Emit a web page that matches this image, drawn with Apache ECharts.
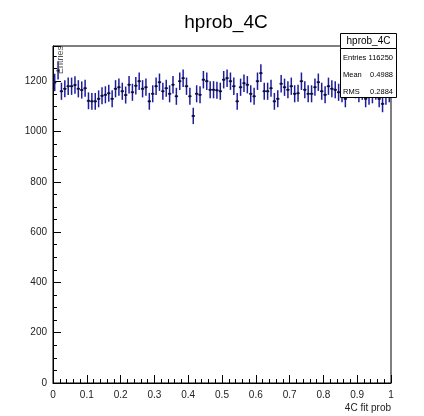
<!DOCTYPE html>
<html><head><meta charset="utf-8">
<script src="https://cdn.jsdelivr.net/npm/echarts@6/dist/echarts.min.js"></script>
<style>html,body{margin:0;padding:0;background:#fff}#c{width:424px;height:416px}</style>
</head><body><div id="c"></div>
<script>
var title = "hprob_4C";
var xTitle = "4C fit prob";
var yTitle = "Entries";
var binLow = 0, binHigh = 1, nBins = 100;
var counts = [
 1195,1242,1160,1170,1180, 1180,1185,1170,1165,1172,
 1122,1120,1120,1130,1142, 1146,1152,1130,1170,1176,
 1160,1145,1186,1156,1182, 1200,1170,1176,1120,1150,
 1180,1196,1160,1172,1150, 1186,1140,1200,1212,1180,
 1140,1062,1150,1146,1206, 1200,1166,1166,1164,1160,
 1206,1212,1200,1180,1120, 1176,1192,1186,1150,1140,
 1200,1232,1160,1160,1172, 1120,1130,1190,1176,1166,
 1180,1150,1152,1200,1166, 1150,1150,1176,1196,1160,
 1146,1180,1170,1166,1156, 1150,1130,1180,1170,1166,
 1150,1160,1130,1140,1146, 1160,1130,1110,1140,1150
];
var statLabels = ["Entries","Mean","RMS"];
var statValues = ["116250","0.4988","0.2884"];

var w = (binHigh-binLow)/nBins;
var data = counts.map(function(v,i){ return [binLow + (i+0.5)*w, v, Math.sqrt(v)]; });
var col = '#1d1d9c';
var font = 'Liberation Sans';
var chart = echarts.init(document.getElementById('c'), null, {renderer:'canvas'});
chart.setOption({
  animation:false,
  backgroundColor:'#fff',
  title:{text:title, left:221, top:8, textAlign:'center',
    textStyle:{fontFamily:font, fontWeight:'normal', fontSize:19, color:'#000'}},
  grid:{left:53, right:33, top:46, bottom:33, show:true, borderColor:'#000', borderWidth:1, backgroundColor:'transparent'},
  xAxis:{type:'value', min:0, max:1, interval:0.1,
    axisLine:{lineStyle:{color:'#000'}},
    axisTick:{inside:true, length:8, lineStyle:{color:'#000'}},
    minorTick:{show:true, splitNumber:5, length:4, lineStyle:{color:'#000'}},
    splitLine:{show:false},
    axisLabel:{fontFamily:font, fontSize:10, color:'#222', margin:7},
    name:xTitle, nameLocation:'end', nameGap:0,
    nameTextStyle:{fontFamily:font, fontSize:10, color:'#222', align:'right', verticalAlign:'top', padding:[20,0,0,0]}
  },
  yAxis:{type:'value', min:0, max:1340, interval:200,
    axisLine:{lineStyle:{color:'#000'}},
    axisTick:{inside:true, length:8, lineStyle:{color:'#000'}},
    minorTick:{show:true, splitNumber:4, length:4, lineStyle:{color:'#000'}},
    splitLine:{show:false},
    axisLabel:{fontFamily:font, fontSize:10, color:'#222', margin:6, showMaxLabel:false,
      formatter:function(v){ return String(v); }}
  },
  graphic:[
    {type:'text', x:56, y:46, rotation:Math.PI/2, z:5,
      style:{text:yTitle, fontFamily:font, fontSize:9, fill:'#555', align:'right', verticalAlign:'top'}},
    {type:'rect', z:10, shape:{x:340.5, y:48.5, width:56, height:49}, style:{fill:'#fff', stroke:'#000', lineWidth:1}},
    {type:'rect', z:11, shape:{x:340.5, y:33.5, width:56, height:15}, style:{fill:'#fff', stroke:'#000', lineWidth:1}},
    {type:'text', z:12, x:368.5, y:41, style:{text:title, fontFamily:font, fontSize:10, fill:'#000', align:'center', verticalAlign:'middle'}},
    {type:'text', z:12, x:343, y:58, style:{text:statLabels[0], fontFamily:font, fontSize:7.5, fill:'#000', verticalAlign:'middle'}},
    {type:'text', z:12, x:343, y:75, style:{text:statLabels[1], fontFamily:font, fontSize:7.5, fill:'#000', verticalAlign:'middle'}},
    {type:'text', z:12, x:343, y:92, style:{text:statLabels[2], fontFamily:font, fontSize:7.5, fill:'#000', verticalAlign:'middle'}},
    {type:'text', z:12, x:393, y:58, style:{text:statValues[0], fontFamily:font, fontSize:7.5, fill:'#000', align:'right', verticalAlign:'middle'}},
    {type:'text', z:12, x:393, y:75, style:{text:statValues[1], fontFamily:font, fontSize:7.5, fill:'#000', align:'right', verticalAlign:'middle'}},
    {type:'text', z:12, x:393, y:92, style:{text:statValues[2], fontFamily:font, fontSize:7.5, fill:'#000', align:'right', verticalAlign:'middle'}}
  ],
  series:[{
    type:'custom', data:data, clip:true,
    renderItem:function(params, api){
      var x = api.value(0), y = api.value(1), e = api.value(2);
      var c = api.coord([x,y]);
      var l = api.coord([x-w/2,y]), r = api.coord([x+w/2,y]);
      var lo = api.coord([x,y-e]), hi = api.coord([x,y+e]);
      return {type:'group', children:[
        {type:'line', shape:{x1:l[0],y1:c[1],x2:r[0],y2:c[1]}, style:{stroke:col, lineWidth:1.5}},
        {type:'line', shape:{x1:c[0],y1:lo[1],x2:c[0],y2:hi[1]}, style:{stroke:col, lineWidth:1.5}},
        {type:'rect', shape:{x:c[0]-1,y:c[1]-1,width:2,height:2}, style:{fill:'#111'}}
      ]};
    }
  }]
});
</script></body></html>
